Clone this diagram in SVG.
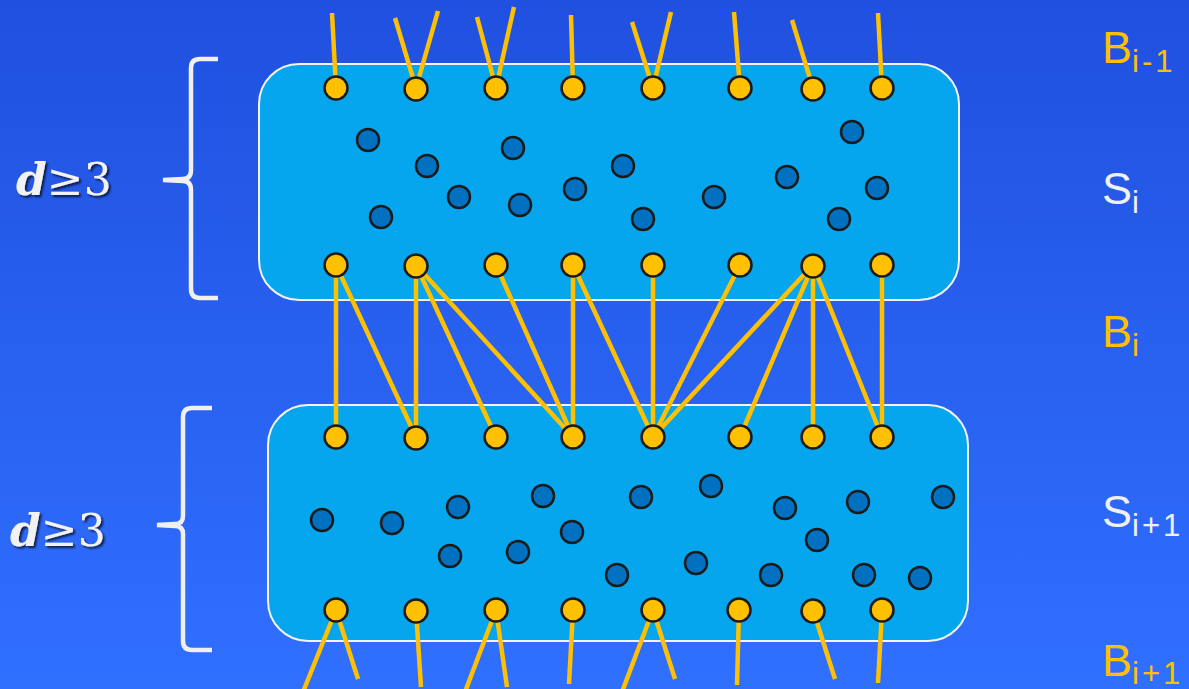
<svg xmlns="http://www.w3.org/2000/svg" width="1189" height="689" viewBox="0 0 1189 689">
<defs>
<linearGradient id="bg" x1="0" y1="0" x2="0" y2="1">
<stop offset="0" stop-color="#2050df"/>
<stop offset="1" stop-color="#3070ff"/>
</linearGradient>
<filter id="sh" x="-20%" y="-20%" width="140%" height="140%">
<feDropShadow dx="2" dy="2" stdDeviation="1" flood-color="#000" flood-opacity="0.7"/>
</filter>
</defs>
<style>
.box{fill:#05a6ed;stroke:#f4f4f4;stroke-width:2}
.b{fill:#ffc000;stroke:#1a1a1a;stroke-width:2.5}
.s{fill:#0070c0;stroke:#1a1a1a;stroke-width:2.5}
.ln{stroke:#ffc000;stroke-width:4.5;fill:none;stroke-linecap:butt}
.brace{fill:none;stroke:#f0f0f0;stroke-width:4.5;stroke-linecap:butt}
.dl{font-family:"DejaVu Serif","Liberation Serif",serif;font-size:44px;fill:#f2f2f2}
.lab{font-family:"Liberation Sans",Arial,sans-serif;font-size:45px}
.sub{font-size:31px;letter-spacing:3px}
.gold{fill:#ffc000}
.wh{fill:#f0f0f0}
</style>
<rect width="1189" height="689" fill="url(#bg)"/>

<g id="box-Si"><rect class="box" x="259" y="64" width="700" height="236" rx="40"/></g>
<g id="box-Si1"><rect class="box" x="268" y="405" width="700" height="236" rx="40"/></g>

<g id="connectors">
<line class="ln" x1="336" y1="88" x2="332" y2="13"/>
<line class="ln" x1="416" y1="88" x2="395" y2="18"/>
<line class="ln" x1="416" y1="88" x2="438" y2="11"/>
<line class="ln" x1="496" y1="88" x2="477" y2="17"/>
<line class="ln" x1="496" y1="88" x2="514" y2="7"/>
<line class="ln" x1="573" y1="88" x2="571" y2="15"/>
<line class="ln" x1="653" y1="88" x2="632" y2="22"/>
<line class="ln" x1="653" y1="88" x2="671" y2="12"/>
<line class="ln" x1="740" y1="88" x2="734" y2="12"/>
<line class="ln" x1="813" y1="88" x2="792" y2="20"/>
<line class="ln" x1="882" y1="88" x2="878" y2="13"/>
<line class="ln" x1="336" y1="265" x2="336" y2="437"/>
<line class="ln" x1="336" y1="265" x2="416" y2="437"/>
<line class="ln" x1="416" y1="265" x2="416" y2="437"/>
<line class="ln" x1="416" y1="265" x2="496" y2="437"/>
<line class="ln" x1="416" y1="265" x2="573" y2="437"/>
<line class="ln" x1="496" y1="265" x2="573" y2="437"/>
<line class="ln" x1="573" y1="265" x2="573" y2="437"/>
<line class="ln" x1="573" y1="265" x2="653" y2="437"/>
<line class="ln" x1="653" y1="265" x2="653" y2="437"/>
<line class="ln" x1="740" y1="265" x2="653" y2="437"/>
<line class="ln" x1="813" y1="265" x2="653" y2="437"/>
<line class="ln" x1="813" y1="265" x2="740" y2="437"/>
<line class="ln" x1="813" y1="265" x2="813" y2="437"/>
<line class="ln" x1="813" y1="265" x2="882" y2="437"/>
<line class="ln" x1="882" y1="265" x2="882" y2="437"/>
<line class="ln" x1="336" y1="610" x2="303" y2="692"/>
<line class="ln" x1="336" y1="610" x2="358" y2="679"/>
<line class="ln" x1="416" y1="610" x2="421" y2="687"/>
<line class="ln" x1="496" y1="610" x2="465" y2="692"/>
<line class="ln" x1="496" y1="610" x2="507" y2="687"/>
<line class="ln" x1="573" y1="610" x2="569" y2="684"/>
<line class="ln" x1="653" y1="610" x2="622" y2="692"/>
<line class="ln" x1="653" y1="610" x2="675" y2="679"/>
<line class="ln" x1="739" y1="610" x2="737" y2="685"/>
<line class="ln" x1="813" y1="610" x2="835" y2="679"/>
<line class="ln" x1="882" y1="610" x2="878" y2="683"/>
</g>

<g id="Bi-1-nodes">
<circle class="b" cx="336" cy="88" r="11.5"/><circle class="b" cx="416" cy="89" r="11.5"/><circle class="b" cx="496" cy="88" r="11.5"/><circle class="b" cx="573" cy="88" r="11.5"/><circle class="b" cx="653" cy="88" r="11.5"/><circle class="b" cx="740" cy="88" r="11.5"/><circle class="b" cx="813" cy="89" r="11.5"/><circle class="b" cx="882" cy="88" r="11.5"/>
</g>
<g id="Si-nodes">
<circle class="s" cx="368" cy="140" r="11"/><circle class="s" cx="427" cy="166" r="11"/><circle class="s" cx="459" cy="197" r="11"/><circle class="s" cx="381" cy="217" r="11"/><circle class="s" cx="513" cy="148" r="11"/><circle class="s" cx="520" cy="205" r="11"/><circle class="s" cx="575" cy="189" r="11"/><circle class="s" cx="623" cy="166" r="11"/><circle class="s" cx="643" cy="219" r="11"/><circle class="s" cx="714" cy="197" r="11"/><circle class="s" cx="787" cy="177" r="11"/><circle class="s" cx="852" cy="132" r="11"/><circle class="s" cx="877" cy="188" r="11"/><circle class="s" cx="839" cy="219" r="11"/>
</g>
<g id="Bi-nodes-top">
<circle class="b" cx="336" cy="265" r="11.5"/><circle class="b" cx="416" cy="266" r="11.5"/><circle class="b" cx="496" cy="265" r="11.5"/><circle class="b" cx="573" cy="265" r="11.5"/><circle class="b" cx="653" cy="265" r="11.5"/><circle class="b" cx="740" cy="265" r="11.5"/><circle class="b" cx="813" cy="266" r="11.5"/><circle class="b" cx="882" cy="265" r="11.5"/>
</g>
<g id="Bi-nodes-bottom">
<circle class="b" cx="336" cy="437" r="11.5"/><circle class="b" cx="416" cy="438" r="11.5"/><circle class="b" cx="496" cy="437" r="11.5"/><circle class="b" cx="573" cy="437" r="11.5"/><circle class="b" cx="653" cy="437" r="11.5"/><circle class="b" cx="740" cy="437" r="11.5"/><circle class="b" cx="813" cy="437" r="11.5"/><circle class="b" cx="882" cy="437" r="11.5"/>
</g>
<g id="Si1-nodes">
<circle class="s" cx="322" cy="520" r="11"/><circle class="s" cx="392" cy="523" r="11"/><circle class="s" cx="458" cy="507" r="11"/><circle class="s" cx="543" cy="496" r="11"/><circle class="s" cx="450" cy="556" r="11"/><circle class="s" cx="518" cy="552" r="11"/><circle class="s" cx="572" cy="532" r="11"/><circle class="s" cx="617" cy="575" r="11"/><circle class="s" cx="641" cy="497" r="11"/><circle class="s" cx="711" cy="486" r="11"/><circle class="s" cx="785" cy="508" r="11"/><circle class="s" cx="858" cy="502" r="11"/><circle class="s" cx="943" cy="497" r="11"/><circle class="s" cx="817" cy="540" r="11"/><circle class="s" cx="696" cy="563" r="11"/><circle class="s" cx="771" cy="575" r="11"/><circle class="s" cx="864" cy="575" r="11"/><circle class="s" cx="920" cy="578" r="11"/>
</g>
<g id="Bi1-nodes">
<circle class="b" cx="336" cy="610" r="11.5"/><circle class="b" cx="416" cy="611" r="11.5"/><circle class="b" cx="496" cy="610" r="11.5"/><circle class="b" cx="573" cy="610" r="11.5"/><circle class="b" cx="653" cy="610" r="11.5"/><circle class="b" cx="739" cy="610" r="11.5"/><circle class="b" cx="813" cy="611" r="11.5"/><circle class="b" cx="882" cy="610" r="11.5"/>
</g>

<g id="brace-1">
<path class="brace" d="M218,59 L200,59 Q191,59 191,68 L191,170 Q191,179 183,179 L163,180 L183,181 Q191,181 191,190 L191,289 Q191,298 200,298 L218,298"/>
</g>
<g id="brace-2">
<path class="brace" d="M212,408 L192,408 Q183,408 183,417 L183,516 Q183,524 175,524 L157,525 L175,526 Q183,526 183,534 L183,641 Q183,650 192,650 L212,650"/>
</g>

<g id="label-d1" filter="url(#sh)"><text class="dl" x="16" y="195"><tspan font-style="italic" font-weight="bold">d</tspan>≥3</text></g>
<g id="label-d2" filter="url(#sh)"><text class="dl" x="10" y="546"><tspan font-style="italic" font-weight="bold">d</tspan>≥3</text></g>

<g id="label-Bi-1"><text class="lab gold" x="1102" y="63">B<tspan class="sub" dy="9">i-1</tspan></text></g>
<g id="label-Si"><text class="lab wh" x="1102" y="204">S<tspan class="sub" dy="9">i</tspan></text></g>
<g id="label-Bi"><text class="lab gold" x="1102" y="347">B<tspan class="sub" dy="9">i</tspan></text></g>
<g id="label-Si1"><text class="lab wh" x="1102" y="527">S<tspan class="sub" dy="9">i+1</tspan></text></g>
<g id="label-Bi1"><text class="lab gold" x="1102" y="676">B<tspan class="sub" dy="8">i+1</tspan></text></g>
</svg>
